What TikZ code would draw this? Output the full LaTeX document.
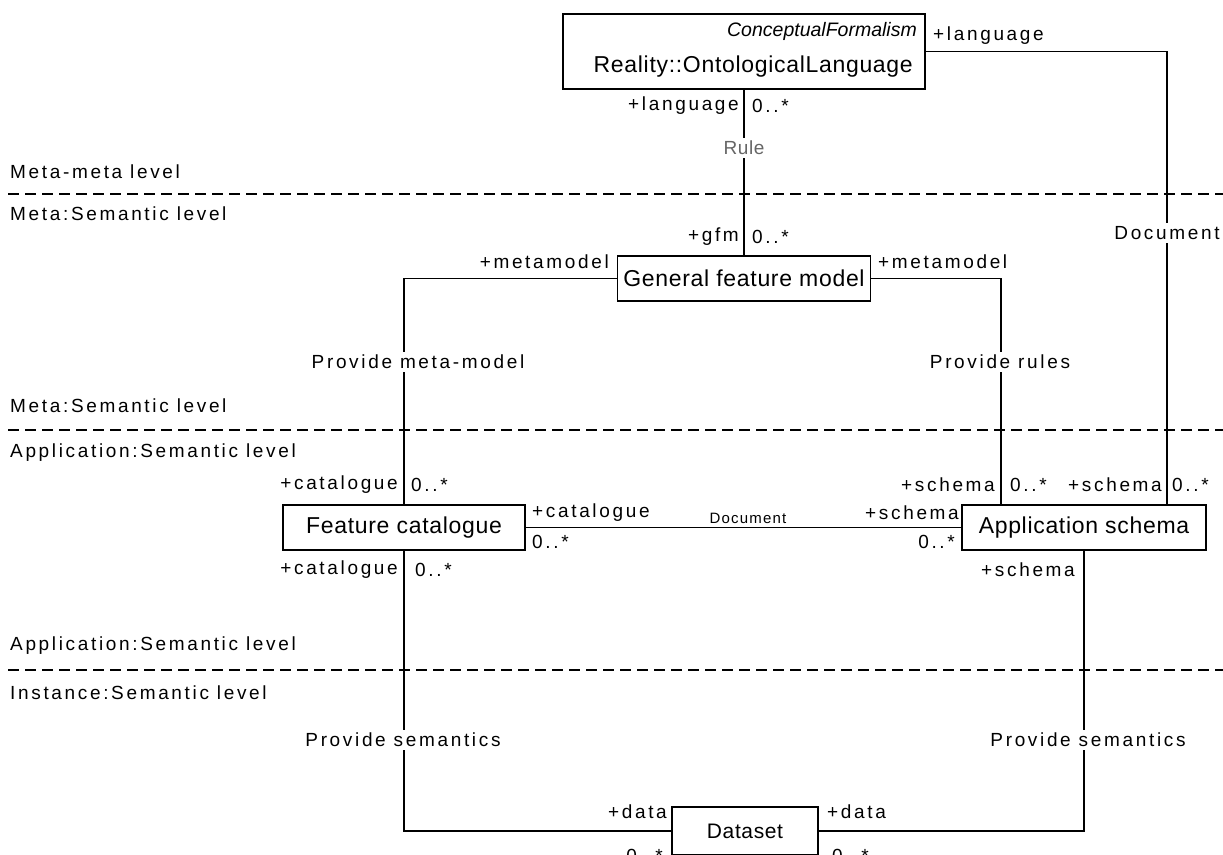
\documentclass[tikz,border=0pt]{standalone}
\usepackage{fontspec}
\setmainfont{Liberation Sans}
\newfontfamily\lblfont[LetterSpace=14]{Liberation Sans}
\newfontfamily\smallfont[LetterSpace=8]{Liberation Sans}
\newfontfamily\clsfont[LetterSpace=3]{Liberation Sans}
\newfontfamily\clsitfont{Liberation Sans Italic}
\usetikzlibrary{calc}
\begin{document}
\begin{tikzpicture}[x=1pt,y=-1pt,
  conn/.style={line width=1.3pt},
  sepline/.style={line width=1.2pt, dash pattern=on 11pt off 6pt},
  lbl/.style={inner sep=0pt, font=\lblfont\fontsize{19}{22}\selectfont},
  lvl/.style={lbl, anchor=west},
  midlbl/.style={lbl, fill=white, inner sep=3pt},
  cls/.style={draw, line width=1.3pt, inner sep=0pt, font=\clsfont\fontsize{23}{26}\selectfont},
  clstext/.style={inner sep=0pt, font=\clsfont\fontsize{23}{26}\selectfont},
]
\useasboundingbox (0,0) rectangle (1223,854);
\clip (0,0) rectangle (1223,854);

% level separators
\coordinate (s1l) at (8,194);  \coordinate (s1r) at (1223,194);
\coordinate (s2l) at (8,430);  \coordinate (s2r) at (1223,430);
\coordinate (s3l) at (8,670);  \coordinate (s3r) at (1223,670);
\draw[sepline] (s1l) -- (s1r);
\draw[sepline] (s2l) -- (s2r);
\draw[sepline] (s3l) -- (s3r);
\node[lvl] (l1) at (10,172) {Meta-meta level};
\node[lvl] (l2) at (10,214) {Meta:Semantic level};
\node[lvl] (l3) at (10,406) {Meta:Semantic level};
\node[lvl] (l4) at (10,453) {Application:Semantic level};
\node[lvl] (l5) at (10,646) {Application:Semantic level};
\node[lvl] (l6) at (10,693) {Instance:Semantic level};

% classes
\node[cls, minimum width=362, minimum height=75] (lang) at (744,51.5) {};
\node[inner sep=0pt, anchor=east, font=\clsitfont\fontsize{19.5}{22}\selectfont] (langst) at (917,31) {ConceptualFormalism};
\node[clstext, anchor=east] (langname) at (913,67) {Reality::OntologicalLanguage};
\node[cls, minimum width=253, minimum height=45] (gfm) at (744,278.5) {General feature model};
\node[cls, minimum width=242, minimum height=45] (fc) at (404,527.5) {Feature catalogue};
\node[cls, minimum width=244, minimum height=45] (as) at (1084,527.5) {Application schema};
\node[cls, minimum width=146, minimum height=48, font=\clsfont\fontsize{21}{24}\selectfont] (ds) at (745,831) {Dataset};

% connectors
\draw[conn] (lang.south) -- (gfm.north);
\draw[conn] (lang.east) -| ([xshift=83]as.north);
\draw[conn] (gfm.west) -| (fc.north);
\draw[conn] (gfm.east) -| ([xshift=-83]as.north);
\draw[conn] (fc.east) -- (as.west);
\draw[conn] (fc.south) |- (ds.west);
\draw[conn] (as.south) |- (ds.east);

% association names
\node[midlbl, text=black!60, font=\clsfont\fontsize{19}{22}\selectfont] (nrule) at (744,148) {Rule};
\node[midlbl] (ndoc1) at (1167,233) {Document};
\node[midlbl] (nmm) at (418,362) {Provide meta-model};
\node[midlbl] (nrules) at (1000,362) {Provide rules};
\node[inner sep=0pt, font=\smallfont\fontsize{15}{18}\selectfont] (ndoc2) at (748,518) {Document};
\node[midlbl] (nsem1) at (403,740) {Provide semantics};
\node[midlbl] (nsem2) at (1088,740) {Provide semantics};

% role names and multiplicities
\node[lbl, anchor=west] (r1) at (933,36) {+language};
\node[lbl, anchor=east] (r2) at (739,106) {+language};
\node[lbl, anchor=west] (m2) at (752,106) {0..*};
\node[lbl, anchor=east] (r3) at (739,237) {+gfm};
\node[lbl, anchor=west] (m3) at (752,237) {0..*};
\node[lbl, anchor=east] (r4) at (609,262) {+metamodel};
\node[lbl, anchor=west] (r5) at (878,262) {+metamodel};
\node[lbl, anchor=east] (r6) at (398,485) {+catalogue};
\node[lbl, anchor=west] (m6) at (411,485) {0..*};
\node[lbl, anchor=east] (r7) at (995,485) {+schema};
\node[lbl, anchor=west] (m7) at (1010,485) {0..*};
\node[lbl, anchor=east] (r8) at (1162,485) {+schema};
\node[lbl, anchor=west] (m8) at (1172,485) {0..*};
\node[lbl, anchor=west] (r9) at (532,513) {+catalogue};
\node[lbl, anchor=west] (m9) at (532,542) {0..*};
\node[lbl, anchor=east] (r10) at (959,513) {+schema};
\node[lbl, anchor=east] (m10) at (955,542) {0..*};
\node[lbl, anchor=east] (r11) at (398,570) {+catalogue};
\node[lbl, anchor=west] (m11) at (415,570) {0..*};
\node[lbl, anchor=east] (r12) at (1075,570) {+schema};
\node[lbl, anchor=east] (r13) at (667,812) {+data};
\node[lbl, anchor=east] (m13) at (663,856) {0..*};
\node[lbl, anchor=west] (r14) at (827,812) {+data};
\node[lbl, anchor=west] (m14) at (832,856) {0..*};
\end{tikzpicture}
\end{document}
